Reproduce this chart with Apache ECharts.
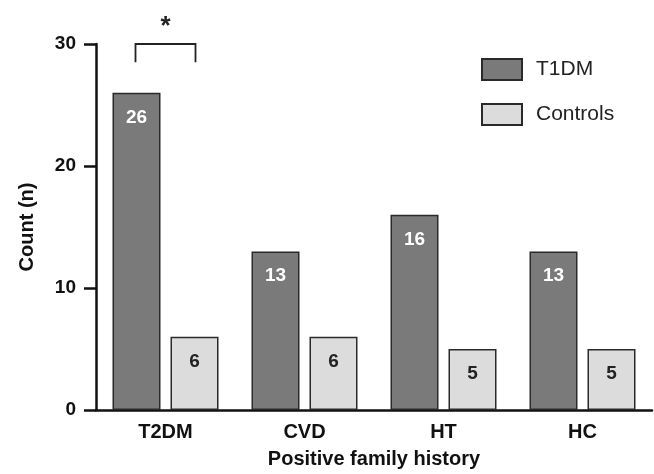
<!DOCTYPE html>
<html>
<head>
<meta charset="utf-8">
<script src="https://cdn.jsdelivr.net/npm/echarts@6/dist/echarts.min.js"></script>
<style>html,body{margin:0;padding:0;background:#fff}#c{width:654px;height:474px}</style>
</head>
<body>
<div id="c"></div>
<script>
const categories = ['T2DM', 'CVD', 'HT', 'HC'];
const t1dmValues = [26, 13, 16, 13];
const controlValues = [6, 6, 5, 5];
const yTicks = [0, 10, 20, 30];
const bracket = { category: 'T2DM', top: 30, legBottom: 28.5, starY: 31.4, mark: '*' };

const FONT = 'Arial, "Liberation Sans", Helvetica, sans-serif';
const chart = echarts.init(document.getElementById('c'), null, { renderer: 'canvas' });
const BAR_W = 48, GAP = 10;

chart.setOption({
  animation: false,
  backgroundColor: '#ffffff',
  grid: { left: 96, right: 2, top: 44, bottom: 60, containLabel: false },
  legend: {
    orient: 'vertical', left: 481, top: 58, padding: 0,
    itemWidth: 40, itemHeight: 21, itemGap: 22,
    icon: 'rect',
    textStyle: { fontFamily: FONT, fontSize: 21, color: '#222', padding: [0, 0, 0, 9] },
    data: ['T1DM', 'Controls']
  },
  xAxis: {
    type: 'category', data: categories,
    name: 'Positive family history', nameLocation: 'middle', nameGap: 39,
    nameTextStyle: { fontFamily: FONT, fontSize: 20, fontWeight: 'bold', color: '#111' },
    axisLine: { lineStyle: { color: '#111', width: 2.5 } },
    axisTick: { show: false },
    axisLabel: { fontFamily: FONT, fontSize: 20, fontWeight: 'bold', color: '#111', margin: 12 }
  },
  yAxis: {
    type: 'value', min: yTicks[0], max: yTicks[yTicks.length - 1], interval: 10,
    name: 'Count (n)', nameLocation: 'middle', nameGap: 59,
    nameTextStyle: { fontFamily: FONT, fontSize: 20, fontWeight: 'bold', color: '#111' },
    axisLine: { show: true, lineStyle: { color: '#111', width: 2.5 } },
    axisTick: { show: true, length: 12, lineStyle: { color: '#111', width: 2.5 } },
    axisLabel: { fontFamily: FONT, fontSize: 19, fontWeight: 'bold', color: '#111', margin: 20 },
    splitLine: { show: false }
  },
  series: [
    {
      name: 'T1DM', type: 'bar', data: t1dmValues, barWidth: BAR_W, barGap: (GAP / BAR_W * 100) + '%',
      itemStyle: { color: '#7a7a7a', borderColor: '#2a2a2a', borderWidth: 1.5 },
      label: { show: true, position: 'insideTop', distance: 15, color: '#fff', fontFamily: FONT, fontSize: 19, fontWeight: 'bold' }
    },
    {
      name: 'Controls', type: 'bar', data: controlValues, barWidth: BAR_W,
      itemStyle: { color: '#dcdcdc', borderColor: '#2a2a2a', borderWidth: 1.5 },
      label: { show: true, position: 'insideTop', distance: 15, color: '#222', fontFamily: FONT, fontSize: 19, fontWeight: 'bold' }
    }
  ]
});

// significance bracket positioned through the chart's own scales
const cx = chart.convertToPixel({ xAxisIndex: 0 }, bracket.category);
const off = (BAR_W + GAP) / 2 + 1;
const yTop = chart.convertToPixel({ yAxisIndex: 0 }, bracket.top);
const yLeg = chart.convertToPixel({ yAxisIndex: 0 }, bracket.legBottom);
const yStar = chart.convertToPixel({ yAxisIndex: 0 }, bracket.starY);
const ls = { stroke: '#222', lineWidth: 1.8, fill: null };
chart.setOption({
  graphic: [
    { type: 'polyline', shape: { points: [[cx - off, yLeg], [cx - off, yTop], [cx + off, yTop], [cx + off, yLeg]] }, style: ls },
    { type: 'text', x: cx, y: yStar, style: { text: bracket.mark, fontFamily: FONT, fontSize: 26, fontWeight: 'bold', fill: '#222', align: 'center', verticalAlign: 'middle' } }
  ]
});
</script>
</body>
</html>
